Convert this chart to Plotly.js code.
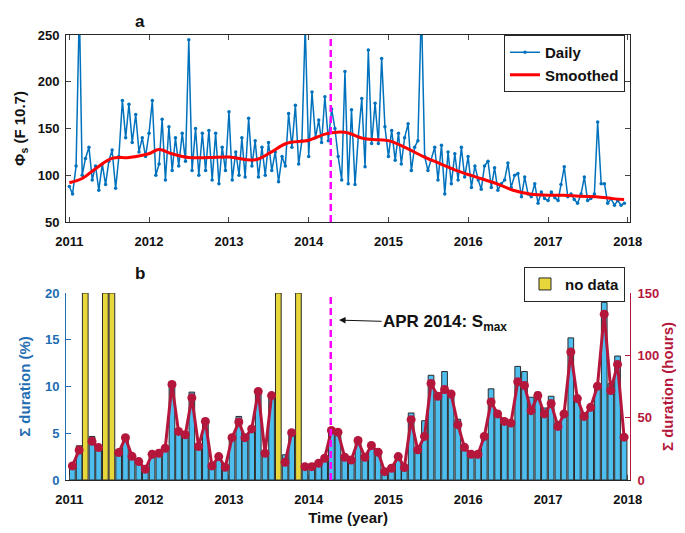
<!DOCTYPE html>
<html>
<head>
<meta charset="utf-8">
<script src="https://cdn.plot.ly/plotly-3.0.1.min.js"></script>
<style>html,body{margin:0;padding:0;background:#fff}#myDiv{width:685px;height:533px}</style>
</head>
<body>
<div id="myDiv"></div>
<script>
var years = [2011, 2012, 2013, 2014, 2015, 2016, 2017];

var f107Daily = [
  88, 80, 110, 280, 100, 118, 130, 95, 110, 84, 112, 90, 115, 127, 86, 120, 180, 140, 176, 135, 165, 125, 140, 120,
  145, 180, 100, 112, 160, 95, 152, 105, 140, 110, 145, 115, 245, 105, 150, 100, 145, 105, 148, 95, 145, 91, 130, 105,
  168, 95, 125, 100, 140, 98, 161, 110, 137, 98, 130, 100, 135, 105, 125, 93, 120, 110, 166, 130, 175, 112, 137, 260,
  120, 189, 140, 159, 135, 184, 137, 171, 150, 120, 95, 211, 91, 170, 90, 141, 182, 109, 234, 134, 177, 134, 225, 152,
  120, 148, 116, 145, 112, 140, 155, 105, 130, 137, 280, 120, 105, 116, 130, 95, 132, 80, 125, 91, 123, 95, 130, 98,
  120, 87, 110, 95, 85, 110, 115, 87, 108, 84, 91, 95, 113, 87, 100, 102, 77, 98, 80, 77, 91, 70, 82, 75,
  73, 82, 76, 73, 90, 109, 77, 80, 74, 70, 80, 98, 73, 75, 80, 157, 91, 91, 70, 75, 68, 73, 68, 70
];

var smoothDates = [
  '2011-01-01', '2011-03-01', '2011-05-01', '2011-07-15', '2011-10-01', '2011-12-31', '2012-02-15', '2012-04-15',
  '2012-07-01', '2012-10-01', '2013-01-01', '2013-05-01', '2013-07-15', '2013-09-20', '2014-01-01', '2014-03-25',
  '2014-06-15', '2014-09-15', '2015-01-01', '2015-03-25', '2015-06-10', '2015-08-25', '2015-11-10', '2016-01-25',
  '2016-05-10', '2016-07-25', '2016-10-10', '2017-01-01', '2017-03-15', '2017-05-25', '2017-08-10', '2017-10-25',
  '2017-12-15'
];
var f107Smooth = [
  92, 96.5, 107, 118, 119, 123, 127.5, 123,
  119, 119, 119.5, 116.5, 125, 134, 137.5, 144.5,
  146, 139, 137, 129, 120, 112.5, 105, 99,
  91, 84, 80, 78.6, 78.6, 77.5, 77, 75,
  74
];

// monthly sums, Jan 2011 .. Dec 2017 (null = no data)
var durPct = [
  1.43, 3.66, null, 4.66, 3.5, null, null, 2.94, 4.5, 2.5, 1.97, 1.15,
  2.7, 2.87, 3.33, 10.5, 5.2, 4.84, 9.4, 3.58, 6.27, 1.5, 2.4, 1.4,
  4.66, 6.8, 4.5, 5.4, 9.5, 2.9, 9.1, null, 2.7, 5.1, null, 1.4,
  1.4, 1.8, 2.3, 5.55, 5.1, 2.5, 2.3, 4.3, 2.5, 3.7, 3.15, 0.7,
  1.1, 2.2, 1.1, 7.17, 3.05, 6.34, 11.2, 8.96, 11.6, 9.2, 6.5, 3.2,
  2.8, 2.8, 4.4, 9.75, 7.0, 6.2, 6.0, 12.15, 11.6, 8.85, 9.39, 7.7,
  8.96, 6.27, 6.9, 15.2, 8.4, 6.6, 7.7, 10.0, 19.0, 10.3, 13.26, 4.3
];
var durHours = [
  11.3, 24, null, 31, 26, null, null, 22, 34, 19, 14.8, 8.6,
  20.7, 21.5, 25.5, 76.6, 39, 36.3, 65.9, 26.9, 47, 11.3, 18.8, 10.2,
  34, 46.5, 34, 41, 71, 21.5, 67.7, null, 14.2, 38, null, 10.7,
  10.7, 13.4, 17.5, 39.8, 38.4, 18.3, 16.1, 31.7, 18.3, 27.7, 22.3, 6.7,
  9.4, 18.8, 10, 48.4, 24.2, 35, 77.4, 67.2, 72.6, 69, 44.4, 26.3,
  20.7, 20.7, 35, 62.6, 53, 47, 45.7, 78.8, 75.8, 55.6, 67.7, 53,
  61.3, 43, 53, 102.7, 65.3, 51, 58.3, 75.3, 133, 71.8, 92.7, 34.4
];
var noDataMonths = ['2011-03', '2011-06', '2011-07', '2013-08', '2013-11'];
var smaxDate = '2014-04-12';

var pctMax = 20;
var blue = '#1F6DB3';
var crimson = '#B5173C';

var dailyDates = [];
var monthMid = [];
years.forEach(function (y) {
  for (var m = 1; m <= 12; m++) {
    var mm = (m < 10 ? '0' : '') + m;
    dailyDates.push(y + '-' + mm + '-01', y + '-' + mm + '-16');
    monthMid.push(y + '-' + mm + '-15');
  }
});

var barW = 26 * 86400000;

var daily = {
  x: dailyDates, y: f107Daily, name: 'Daily', mode: 'lines+markers',
  line: {color: '#0072BD', width: 1.5}, marker: {color: '#0072BD', size: 3.5},
  xaxis: 'x', yaxis: 'y', legend: 'legend'
};
var smooth = {
  x: smoothDates, y: f107Smooth, name: 'Smoothed', mode: 'lines',
  line: {color: '#FF0000', width: 3, shape: 'spline'},
  xaxis: 'x', yaxis: 'y', legend: 'legend'
};
var bars = {
  x: monthMid, y: durPct, type: 'bar', width: barW,
  marker: {color: '#4DBEEE', line: {color: '#2a2a2a', width: 1}},
  xaxis: 'x2', yaxis: 'y2', showlegend: false
};
var nodata = {
  x: noDataMonths.map(function (m) { return m + '-15'; }),
  y: noDataMonths.map(function () { return pctMax; }),
  type: 'bar', width: barW, name: 'no data',
  marker: {color: '#E8D73A', line: {color: '#2a2a2a', width: 1}},
  xaxis: 'x2', yaxis: 'y2', legend: 'legend2'
};
var hours = {
  x: monthMid, y: durHours, mode: 'lines+markers',
  line: {color: crimson, width: 3}, marker: {color: crimson, size: 9},
  xaxis: 'x2', yaxis: 'y3', showlegend: false
};

var data = [daily, smooth, bars, nodata, hours];

var xCommon = {
  type: 'date', range: ['2010-12-17', '2018-01-11'],
  tick0: '2011-01-01', dtick: 'M12', tickformat: '%Y',
  ticks: 'inside', ticklen: 5, showgrid: false, zeroline: false,
  showline: true, linecolor: '#262626', linewidth: 1, ticklabelstandoff: 7,
  tickfont: {size: 13, weight: 'bold'}
};

var layout = {
  width: 685, height: 533,
  margin: {l: 0, r: 0, t: 0, b: 0},
  paper_bgcolor: '#fff', plot_bgcolor: '#fff',
  font: {family: 'Liberation Sans, Arial, sans-serif', size: 13, color: '#111'},
  barmode: 'overlay',
  showlegend: true,
  xaxis: Object.assign({}, xCommon, {domain: [0.0964, 0.9197], anchor: 'y', mirror: 'ticks'}),
  yaxis: {
    domain: [0.5835, 0.9343], anchor: 'x', range: [50, 250], dtick: 50,
    ticks: 'inside', ticklen: 5, mirror: 'ticks', showline: true, linecolor: '#262626',
    showgrid: false, zeroline: false, ticklabelstandoff: 3, tickfont: {size: 13, weight: 'bold'},
    title: {text: 'Φ<sub>s</sub> (F 10.7)', font: {size: 15, weight: 'bold'}, standoff: 8}
  },
  xaxis2: Object.assign({}, xCommon, {
    domain: [0.0964, 0.9197], anchor: 'y2',
    title: {text: 'Time (year)', font: {size: 15, weight: 'bold'}, standoff: 6}
  }),
  yaxis2: {
    domain: [0.0994, 0.4503], anchor: 'x2', range: [0, pctMax], dtick: 5,
    ticks: 'inside', ticklen: 5, showline: true, linecolor: blue, tickcolor: blue,
    showgrid: false, zeroline: false, ticklabelstandoff: 3, tickfont: {size: 13, color: blue, weight: 'bold'},
    title: {text: 'Σ duration (%)', font: {size: 15, color: blue, weight: 'bold'}, standoff: 10}
  },
  yaxis3: {
    overlaying: 'y2', side: 'right', anchor: 'x2', range: [0, 150], dtick: 50,
    ticks: 'inside', ticklen: 5, showline: true, linecolor: crimson, tickcolor: crimson,
    showgrid: false, zeroline: false, ticklabelstandoff: 4, tickfont: {size: 13, color: crimson, weight: 'bold'},
    title: {text: 'Σ duration (hours)', font: {size: 15, color: crimson, weight: 'bold'}, standoff: 4}
  },
  legend: {
    x: 0.9124, xanchor: 'right', y: 0.9343, yanchor: 'top',
    bgcolor: '#fff', bordercolor: '#262626', borderwidth: 1,
    font: {size: 15, weight: 'bold'}, tracegroupgap: 0
  },
  legend2: {
    x: 0.9124, xanchor: 'right', y: 0.4996, yanchor: 'top',
    bgcolor: '#fff', bordercolor: '#262626', borderwidth: 1,
    font: {size: 15, weight: 'bold'}
  },
  shapes: [
    {type: 'line', xref: 'x', yref: 'y domain', x0: smaxDate, x1: smaxDate, y0: 0, y1: 1,
     line: {color: '#FF00FF', width: 2.5, dash: '7px,4px'}},
    {type: 'line', xref: 'x2', yref: 'y2 domain', x0: smaxDate, x1: smaxDate, y0: 0, y1: 1,
     line: {color: '#FF00FF', width: 2.5, dash: '7px,4px'}}
  ],
  annotations: [
    {xref: 'paper', yref: 'paper', x: 133 / 685, y: 1 - 10 / 533, text: 'a', showarrow: false,
     font: {size: 17, weight: 'bold'}},
    {xref: 'paper', yref: 'paper', x: 133 / 685, y: 1 - 273 / 533, text: 'b', showarrow: false,
     font: {size: 17, weight: 'bold'}},
    {xref: 'x2', yref: 'y2', x: '2014-05-20', y: 17.1, text: 'APR 2014: S<sub>max</sub>',
     showarrow: true, arrowhead: 2, arrowsize: 1.3, arrowwidth: 1, arrowcolor: '#111',
     ax: 106, ay: 3, font: {size: 17, weight: 'bold'}}
  ]
};

Plotly.newPlot('myDiv', data, layout, {displayModeBar: false});
</script>
</body>
</html>
